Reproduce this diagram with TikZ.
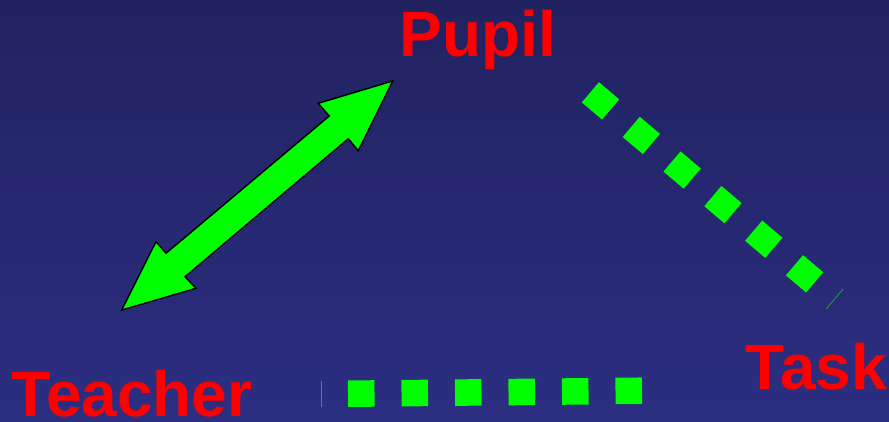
\documentclass[tikz,border=0pt]{standalone}
\usepackage{fontspec}
\setmainfont{Liberation Sans}
\usetikzlibrary{calc}
\definecolor{bgtop}{RGB}{33,34,96}
\definecolor{bgbot}{RGB}{44,46,130}
\definecolor{lime}{RGB}{0,255,0}
\definecolor{lbl}{RGB}{255,0,0}
\tikzset{
  lbltext/.style={inner sep=0pt, anchor=base west, text=lbl, font=\fontsize{64}{64}\selectfont\bfseries},
  dotline/.style={draw=lime, line width=26.5pt, line cap=butt, dash pattern=on 26.5pt off 27pt},
  endtick/.style={draw=lime!60!bgbot, line width=0.8pt},
  bigarrow/.style={fill=lime, draw=black, line width=1.4pt, line join=miter}
}
\begin{document}
\begin{tikzpicture}[x=1pt,y=-1pt]
\useasboundingbox (0,0) rectangle (889,421);
\shade[top color=bgtop, bottom color=bgbot] (0,0) rectangle (889,421);

\node[lbltext] (Pupil) at (399.5,56) {Pupil};
\node[lbltext] (Teacher) at (11.5,416) {Teacher};
\node[lbltext] (Task) at (745.5,389) {Task};

% double arrow Teacher <-> Pupil
\coordinate (tipP) at (392.7,81);
\coordinate (tipT) at (121.7,310);
\draw[bigarrow] (tipP) -- (318.3,103.3) -- (329.3,116) -- (166,253.3) -- (156,241.7)
  -- (tipT) -- (196,288.3) -- (185,276.7) -- (348.3,138.7) -- (358.3,150.7) -- cycle;

% dotted Pupil -- Task
\coordinate (pA) at (590.4,92.3);
\coordinate (pB) at (834.5,299.2);
\draw[dotline] (pA) -- (pB);
\draw[endtick] ($(pB)+(8.5,-10)$) -- ($(pB)+(-8.5,10)$);

% dotted Task -- Teacher
\coordinate (tA) at (642,390.7);
\coordinate (tB) at (321.7,394);
\draw[dotline] (tA) -- (tB);
\draw[endtick] ($(tB)+(0,-13.3)$) -- ($(tB)+(0,13.3)$);
\end{tikzpicture}
\end{document}
